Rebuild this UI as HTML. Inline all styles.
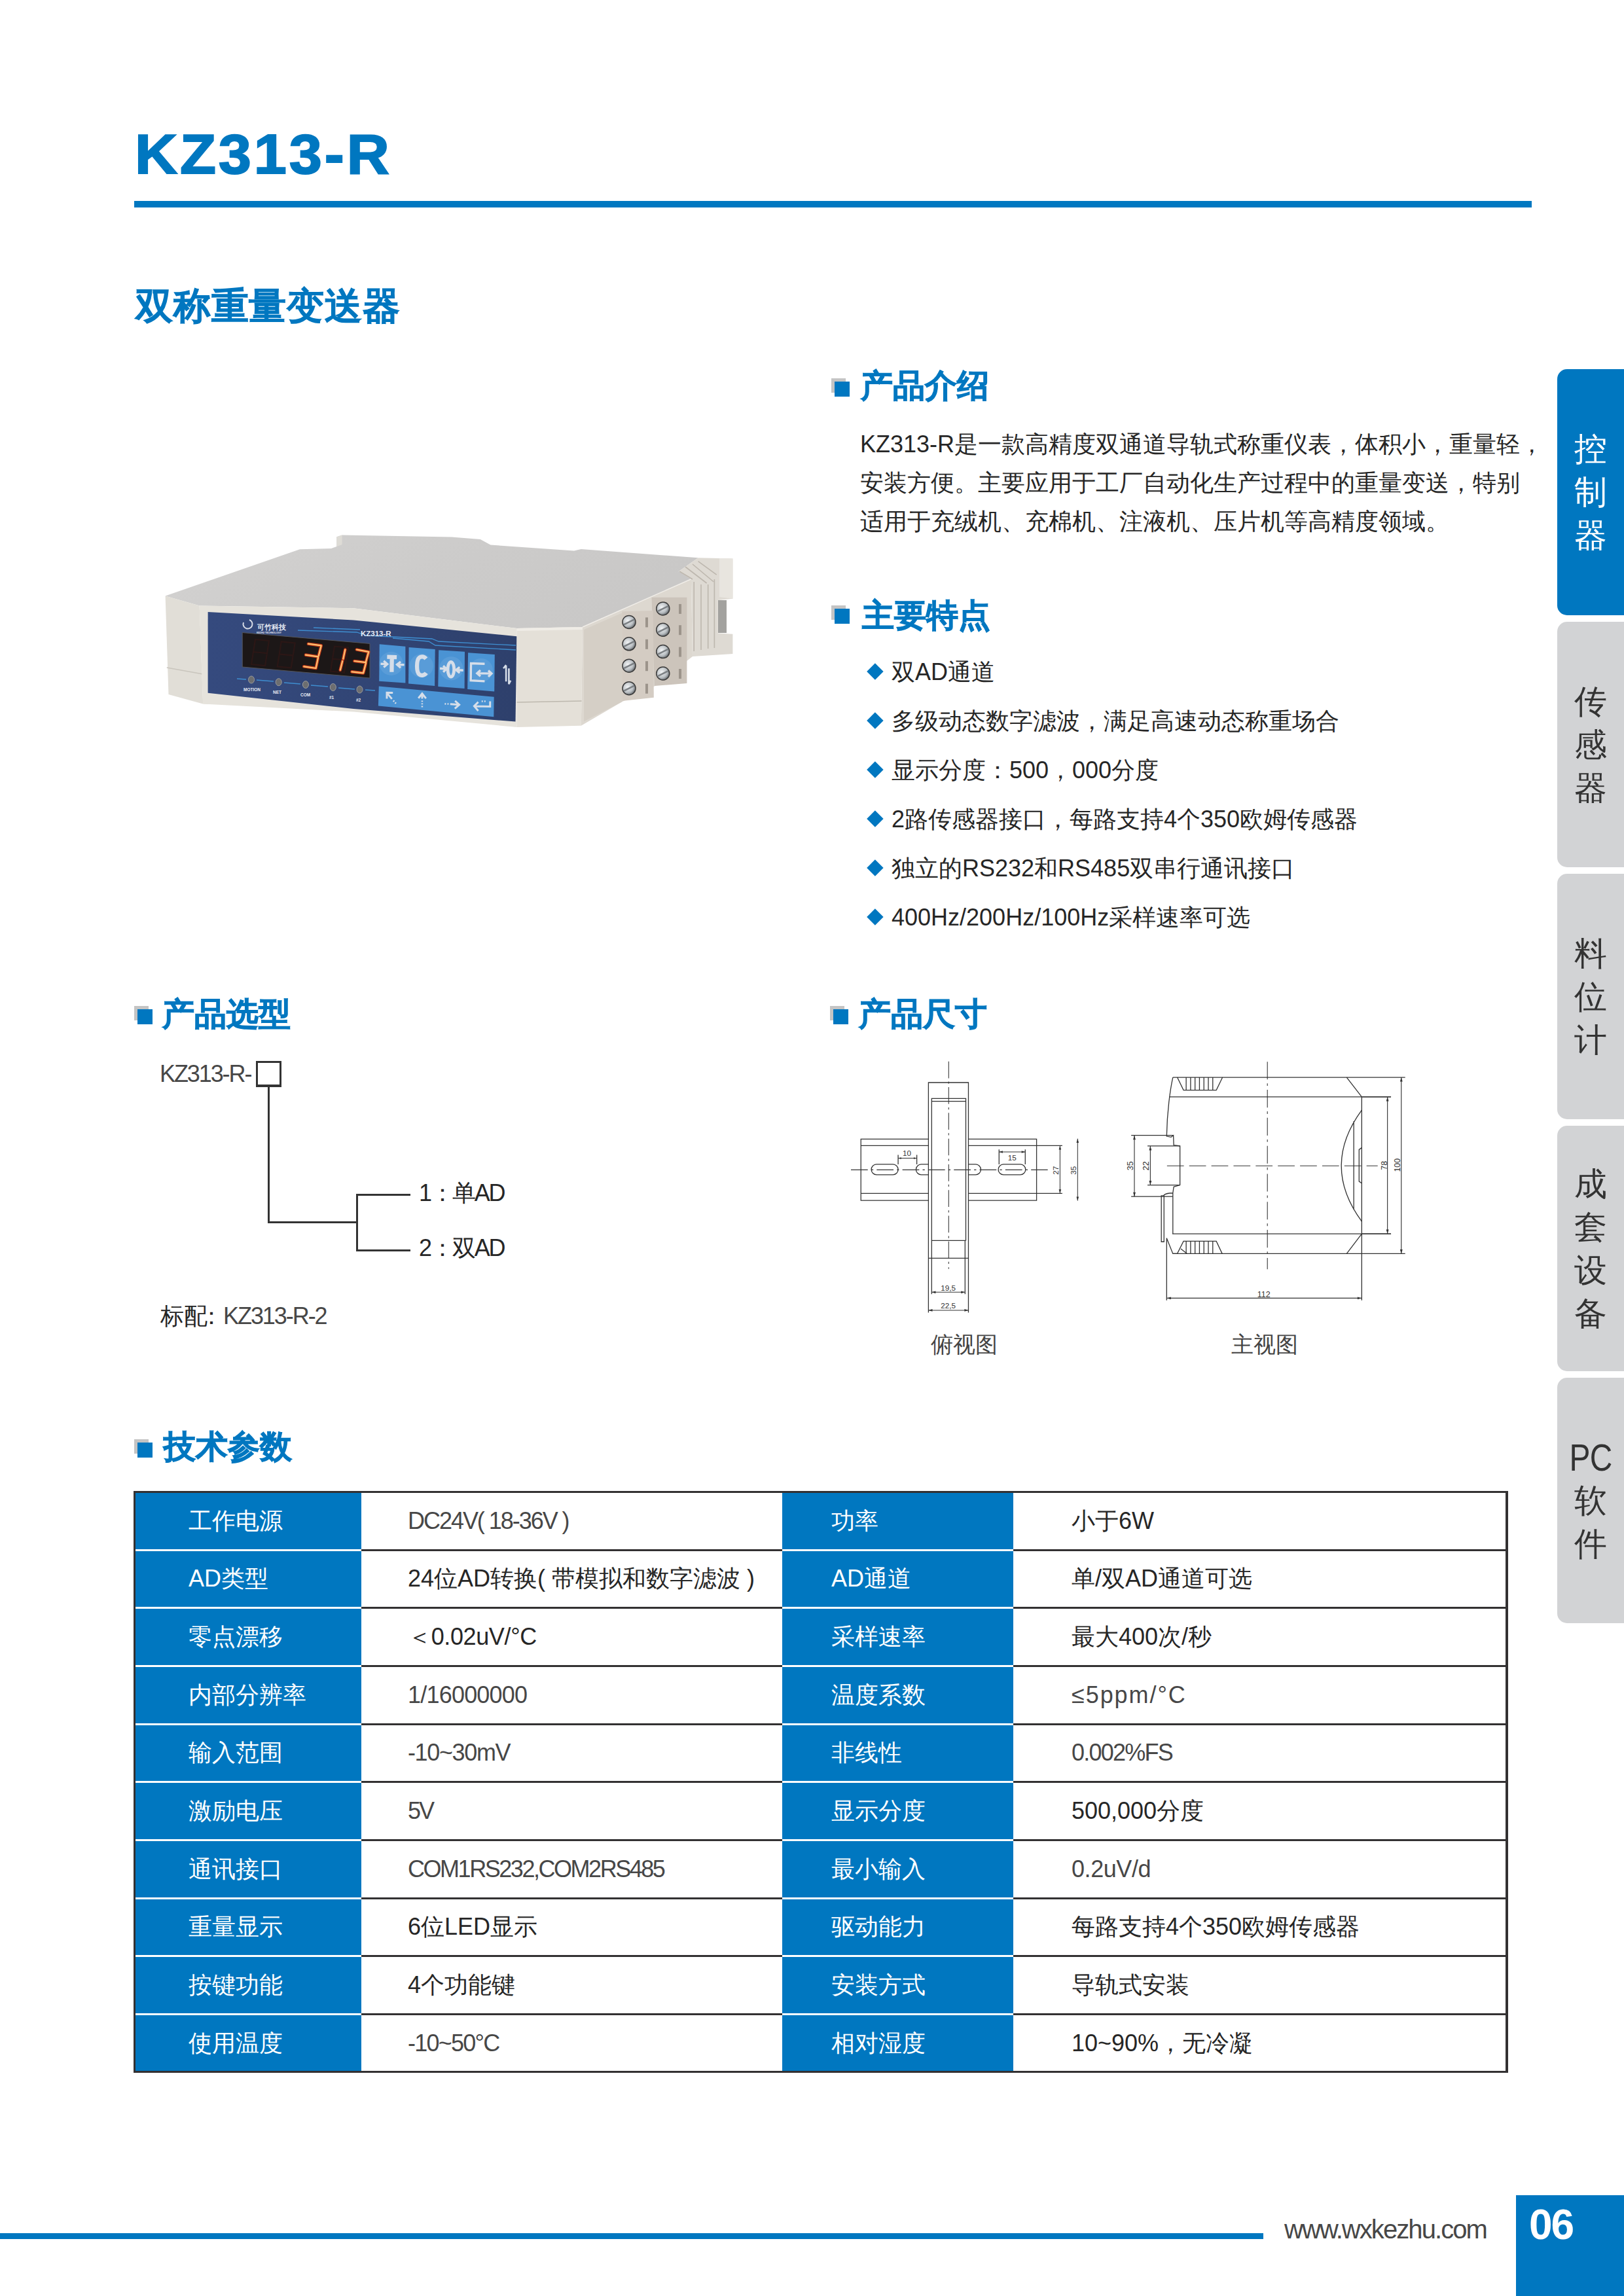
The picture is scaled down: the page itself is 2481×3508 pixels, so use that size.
<!DOCTYPE html>
<html><head><meta charset="utf-8"><title>KZ313-R</title><style>
html,body{margin:0;padding:0;background:#fff;}
body{width:2481px;height:3508px;position:relative;overflow:hidden;font-family:"Liberation Sans",sans-serif;color:#333;}
.a{position:absolute;white-space:nowrap;line-height:1;font-feature-settings:"palt" 1;}
.r{position:absolute;}
.j{text-align:justify;text-align-last:justify;}
</style></head><body>
<div class="a" style="left:206.0px;top:193.2px;font-size:85px;color:#0077C0;font-weight:bold;-webkit-text-stroke:2px #0077C0;letter-spacing:3.65px;transform:scaleX(1.06);transform-origin:0 0;">KZ313-R</div>
<div class="r" style="left:205px;top:307px;width:2135px;height:10px;background:#0077C0;"></div>
<div class="a j" style="left:207.0px;top:438.7px;font-size:57px;color:#0077C0;font-weight:normal;width:404px;-webkit-text-stroke:2.5px #0077C0;">双称重量变送器</div>
<div class="r" style="left:1270px;top:578px;width:22px;height:22px;background:#C4C4C4;"></div>
<div class="r" style="left:1275px;top:583px;width:23px;height:23px;background:#0077C0;"></div>
<div class="a j" style="left:1315.0px;top:564.5px;font-size:49px;color:#0077C0;font-weight:normal;width:196px;-webkit-text-stroke:2.5px #0077C0;">产品介绍</div>
<div class="r" style="left:1270px;top:925px;width:22px;height:22px;background:#C4C4C4;"></div>
<div class="r" style="left:1275px;top:930px;width:23px;height:23px;background:#0077C0;"></div>
<div class="a j" style="left:1317.0px;top:915.5px;font-size:49px;color:#0077C0;font-weight:normal;width:196px;-webkit-text-stroke:2.5px #0077C0;">主要特点</div>
<div class="r" style="left:205px;top:1537px;width:22px;height:22px;background:#C4C4C4;"></div>
<div class="r" style="left:210px;top:1542px;width:23px;height:23px;background:#0077C0;"></div>
<div class="a j" style="left:248.0px;top:1524.5px;font-size:49px;color:#0077C0;font-weight:normal;width:196px;-webkit-text-stroke:2.5px #0077C0;">产品选型</div>
<div class="r" style="left:1268px;top:1537px;width:22px;height:22px;background:#C4C4C4;"></div>
<div class="r" style="left:1273px;top:1542px;width:23px;height:23px;background:#0077C0;"></div>
<div class="a j" style="left:1312.0px;top:1524.5px;font-size:49px;color:#0077C0;font-weight:normal;width:196px;-webkit-text-stroke:2.5px #0077C0;">产品尺寸</div>
<div class="r" style="left:205px;top:2199px;width:22px;height:22px;background:#C4C4C4;"></div>
<div class="r" style="left:210px;top:2204px;width:23px;height:23px;background:#0077C0;"></div>
<div class="a j" style="left:250.0px;top:2185.5px;font-size:49px;color:#0077C0;font-weight:normal;width:196px;-webkit-text-stroke:2.5px #0077C0;">技术参数</div>
<div class="a j" style="left:1314.0px;top:661.2px;font-size:36px;color:#262626;font-weight:normal;width:995.2px;">KZ313-R是一款高精度双通道导轨式称重仪表，体积小，重量轻，</div>
<div class="a j" style="left:1314.0px;top:720.0px;font-size:36px;color:#262626;font-weight:normal;width:985.5px;">安装方便。主要应用于工厂自动化生产过程中的重量变送，特别</div>
<div class="a j" style="left:1314.0px;top:778.5px;font-size:36px;color:#262626;font-weight:normal;width:839.5px;">适用于充绒机、充棉机、注液机、压片机等高精度领域。</div>
<div class="r" style="left:1327.9px;top:1016.5px;width:17.8px;height:17.8px;background:#0077C0;transform:rotate(45deg);"></div>
<div class="a j" style="left:1362.0px;top:1008.5px;font-size:36px;color:#262626;font-weight:normal;width:150.8px;">双AD通道</div>
<div class="r" style="left:1327.9px;top:1091.6px;width:17.8px;height:17.8px;background:#0077C0;transform:rotate(45deg);"></div>
<div class="a j" style="left:1362.0px;top:1083.6px;font-size:36px;color:#262626;font-weight:normal;width:654.9px;">多级动态数字滤波，满足高速动态称重场合</div>
<div class="r" style="left:1327.9px;top:1166.7px;width:17.8px;height:17.8px;background:#0077C0;transform:rotate(45deg);"></div>
<div class="a j" style="left:1362.0px;top:1158.7px;font-size:36px;color:#262626;font-weight:normal;width:361.4px;">显示分度：500，000分度</div>
<div class="r" style="left:1327.9px;top:1241.8px;width:17.8px;height:17.8px;background:#0077C0;transform:rotate(45deg);"></div>
<div class="a j" style="left:1362.0px;top:1233.8px;font-size:36px;color:#262626;font-weight:normal;width:678.8px;">2路传感器接口，每路支持4个350欧姆传感器</div>
<div class="r" style="left:1327.9px;top:1316.9px;width:17.8px;height:17.8px;background:#0077C0;transform:rotate(45deg);"></div>
<div class="a j" style="left:1362.0px;top:1308.9px;font-size:36px;color:#262626;font-weight:normal;width:587.1px;">独立的RS232和RS485双串行通讯接口</div>
<div class="r" style="left:1327.9px;top:1392.0px;width:17.8px;height:17.8px;background:#0077C0;transform:rotate(45deg);"></div>
<div class="a j" style="left:1362.0px;top:1384.0px;font-size:36px;color:#262626;font-weight:normal;width:534.3px;">400Hz/200Hz/100Hz采样速率可选</div>
<div class="a j" style="left:244.0px;top:1623.2px;font-size:36px;color:#474747;font-weight:normal;width:139.3px;letter-spacing:-2.09px;">KZ313-R-</div>
<div class="r" style="left:391px;top:1621px;width:33px;height:33px;border:3px solid #333333;border-bottom-width:4px;"></div>
<div class="r" style="left:409px;top:1660px;width:3px;height:208px;background:#333333;"></div>
<div class="r" style="left:409px;top:1865.5px;width:137px;height:3px;background:#333333;"></div>
<div class="r" style="left:543.5px;top:1824px;width:3px;height:88px;background:#333333;"></div>
<div class="r" style="left:543.5px;top:1824px;width:83px;height:3px;background:#333333;"></div>
<div class="r" style="left:543.5px;top:1909px;width:83px;height:3px;background:#333333;"></div>
<div class="a j" style="left:640.0px;top:1804.5px;font-size:36px;color:#262626;font-weight:normal;width:112.0px;letter-spacing:-2.40px;">1：单AD</div>
<div class="a j" style="left:640.0px;top:1889.1px;font-size:36px;color:#262626;font-weight:normal;width:112.0px;letter-spacing:-2.40px;">2：双AD</div>
<div class="a j" style="left:244.5px;top:1992.9px;font-size:36px;color:#262626;font-weight:normal;width:68.0px;">标配</div>
<div class="a j" style="left:305.0px;top:1992.9px;font-size:36px;color:#262626;font-weight:normal;width:34px;">：</div>
<div class="a j" style="left:341.0px;top:1992.9px;font-size:36px;color:#474747;font-weight:normal;width:157.5px;letter-spacing:-2.06px;">KZ313-R-2</div>
<div class="a j" style="left:1422.0px;top:2037.2px;font-size:34px;color:#444;font-weight:normal;width:101.1px;">俯视图</div>
<div class="a j" style="left:1881.0px;top:2037.2px;font-size:34px;color:#444;font-weight:normal;width:101.1px;">主视图</div>
<div class="r" style="left:2379px;top:564px;width:102px;height:376px;background:#0077C0;border-radius:15px 0 0 15px;"></div>
<div class="a" style="left:2379px;width:102px;text-align:center;top:661.0px;font-size:50px;line-height:50px;color:#fff;">控</div>
<div class="a" style="left:2379px;width:102px;text-align:center;top:727.0px;font-size:50px;line-height:50px;color:#fff;">制</div>
<div class="a" style="left:2379px;width:102px;text-align:center;top:793.0px;font-size:50px;line-height:50px;color:#fff;">器</div>
<div class="r" style="left:2379px;top:950px;width:102px;height:375px;background:#D2D3D5;border-radius:15px 0 0 15px;"></div>
<div class="a" style="left:2379px;width:102px;text-align:center;top:1046.5px;font-size:50px;line-height:50px;color:#333;">传</div>
<div class="a" style="left:2379px;width:102px;text-align:center;top:1112.5px;font-size:50px;line-height:50px;color:#333;">感</div>
<div class="a" style="left:2379px;width:102px;text-align:center;top:1178.5px;font-size:50px;line-height:50px;color:#333;">器</div>
<div class="r" style="left:2379px;top:1335px;width:102px;height:375px;background:#D2D3D5;border-radius:15px 0 0 15px;"></div>
<div class="a" style="left:2379px;width:102px;text-align:center;top:1431.5px;font-size:50px;line-height:50px;color:#333;">料</div>
<div class="a" style="left:2379px;width:102px;text-align:center;top:1497.5px;font-size:50px;line-height:50px;color:#333;">位</div>
<div class="a" style="left:2379px;width:102px;text-align:center;top:1563.5px;font-size:50px;line-height:50px;color:#333;">计</div>
<div class="r" style="left:2379px;top:1720px;width:102px;height:375px;background:#D2D3D5;border-radius:15px 0 0 15px;"></div>
<div class="a" style="left:2379px;width:102px;text-align:center;top:1783.5px;font-size:50px;line-height:50px;color:#333;">成</div>
<div class="a" style="left:2379px;width:102px;text-align:center;top:1849.5px;font-size:50px;line-height:50px;color:#333;">套</div>
<div class="a" style="left:2379px;width:102px;text-align:center;top:1915.5px;font-size:50px;line-height:50px;color:#333;">设</div>
<div class="a" style="left:2379px;width:102px;text-align:center;top:1981.5px;font-size:50px;line-height:50px;color:#333;">备</div>
<div class="r" style="left:2379px;top:2105px;width:102px;height:375px;background:#D2D3D5;border-radius:15px 0 0 15px;"></div>
<div class="a" style="left:2379px;width:102px;text-align:center;top:2201.5px;font-size:57px;line-height:50px;color:#333;letter-spacing:-1px;transform:scaleX(0.84);">PC</div>
<div class="a" style="left:2379px;width:102px;text-align:center;top:2267.5px;font-size:50px;line-height:50px;color:#333;">软</div>
<div class="a" style="left:2379px;width:102px;text-align:center;top:2333.5px;font-size:50px;line-height:50px;color:#333;">件</div>
<div class="r" style="left:204px;top:2278px;width:2100px;height:889px;background:#333132;"></div>
<div class="r" style="left:207px;top:2281.0px;width:345px;height:85.5px;background:#0077C0;"></div>
<div class="r" style="left:552px;top:2281.0px;width:643px;height:85.5px;background:#fff;"></div>
<div class="r" style="left:1195px;top:2281.0px;width:353px;height:85.5px;background:#0077C0;"></div>
<div class="r" style="left:1548px;top:2281.0px;width:752px;height:85.5px;background:#fff;"></div>
<div class="r" style="left:207px;top:2366.5px;width:345px;height:3.2px;background:#fff;"></div>
<div class="r" style="left:1195px;top:2366.5px;width:353px;height:3.2px;background:#fff;"></div>
<div class="a j" style="left:288.0px;top:2305.6px;font-size:36px;color:#fff;font-weight:normal;width:140.0px;">工作电源</div>
<div class="a j" style="left:623.0px;top:2305.6px;font-size:36px;color:#474747;font-weight:normal;width:245.5px;letter-spacing:-2.04px;">DC24V( 18-36V )</div>
<div class="a j" style="left:1270.0px;top:2305.6px;font-size:36px;color:#fff;font-weight:normal;width:70.0px;">功率</div>
<div class="a j" style="left:1637.0px;top:2305.6px;font-size:36px;color:#262626;font-weight:normal;width:118.7px;">小于6W</div>
<div class="r" style="left:207px;top:2369.7px;width:345px;height:85.5px;background:#0077C0;"></div>
<div class="r" style="left:552px;top:2369.7px;width:643px;height:85.5px;background:#fff;"></div>
<div class="r" style="left:1195px;top:2369.7px;width:353px;height:85.5px;background:#0077C0;"></div>
<div class="r" style="left:1548px;top:2369.7px;width:752px;height:85.5px;background:#fff;"></div>
<div class="r" style="left:207px;top:2455.1px;width:345px;height:3.2px;background:#fff;"></div>
<div class="r" style="left:1195px;top:2455.1px;width:353px;height:3.2px;background:#fff;"></div>
<div class="a j" style="left:288.0px;top:2394.3px;font-size:36px;color:#fff;font-weight:normal;width:114.1px;">AD类型</div>
<div class="a j" style="left:623.0px;top:2394.3px;font-size:36px;color:#262626;font-weight:normal;width:504.1px;">24位AD转换( 带模拟和数字滤波 )</div>
<div class="a j" style="left:1270.0px;top:2394.3px;font-size:36px;color:#fff;font-weight:normal;width:114.1px;">AD通道</div>
<div class="a j" style="left:1637.0px;top:2394.3px;font-size:36px;color:#262626;font-weight:normal;width:267.9px;">单/双AD通道可选</div>
<div class="r" style="left:207px;top:2458.3px;width:345px;height:85.5px;background:#0077C0;"></div>
<div class="r" style="left:552px;top:2458.3px;width:643px;height:85.5px;background:#fff;"></div>
<div class="r" style="left:1195px;top:2458.3px;width:353px;height:85.5px;background:#0077C0;"></div>
<div class="r" style="left:1548px;top:2458.3px;width:752px;height:85.5px;background:#fff;"></div>
<div class="r" style="left:207px;top:2543.8px;width:345px;height:3.2px;background:#fff;"></div>
<div class="r" style="left:1195px;top:2543.8px;width:353px;height:3.2px;background:#fff;"></div>
<div class="a j" style="left:288.0px;top:2483.0px;font-size:36px;color:#fff;font-weight:normal;width:140.0px;">零点漂移</div>
<div class="a j" style="left:623.0px;top:2483.0px;font-size:36px;color:#262626;font-weight:normal;width:187.8px;letter-spacing:-0.37px;">＜0.02uV/°C</div>
<div class="a j" style="left:1270.0px;top:2483.0px;font-size:36px;color:#fff;font-weight:normal;width:140.0px;">采样速率</div>
<div class="a j" style="left:1637.0px;top:2483.0px;font-size:36px;color:#262626;font-weight:normal;width:210.0px;">最大400次/秒</div>
<div class="r" style="left:207px;top:2547.0px;width:345px;height:85.5px;background:#0077C0;"></div>
<div class="r" style="left:552px;top:2547.0px;width:643px;height:85.5px;background:#fff;"></div>
<div class="r" style="left:1195px;top:2547.0px;width:353px;height:85.5px;background:#0077C0;"></div>
<div class="r" style="left:1548px;top:2547.0px;width:752px;height:85.5px;background:#fff;"></div>
<div class="r" style="left:207px;top:2632.5px;width:345px;height:3.2px;background:#fff;"></div>
<div class="r" style="left:1195px;top:2632.5px;width:353px;height:3.2px;background:#fff;"></div>
<div class="a j" style="left:288.0px;top:2571.6px;font-size:36px;color:#fff;font-weight:normal;width:175.0px;">内部分辨率</div>
<div class="a j" style="left:623.0px;top:2571.6px;font-size:36px;color:#474747;font-weight:normal;width:182.3px;letter-spacing:-0.79px;">1/16000000</div>
<div class="a j" style="left:1270.0px;top:2571.6px;font-size:36px;color:#fff;font-weight:normal;width:140.0px;">温度系数</div>
<div class="a j" style="left:1637.0px;top:2571.6px;font-size:36px;color:#474747;font-weight:normal;width:175.7px;letter-spacing:1.94px;">≤5ppm/°C</div>
<div class="r" style="left:207px;top:2635.7px;width:345px;height:85.5px;background:#0077C0;"></div>
<div class="r" style="left:552px;top:2635.7px;width:643px;height:85.5px;background:#fff;"></div>
<div class="r" style="left:1195px;top:2635.7px;width:353px;height:85.5px;background:#0077C0;"></div>
<div class="r" style="left:1548px;top:2635.7px;width:752px;height:85.5px;background:#fff;"></div>
<div class="r" style="left:207px;top:2721.1px;width:345px;height:3.2px;background:#fff;"></div>
<div class="r" style="left:1195px;top:2721.1px;width:353px;height:3.2px;background:#fff;"></div>
<div class="a j" style="left:288.0px;top:2660.3px;font-size:36px;color:#fff;font-weight:normal;width:140.0px;">输入范围</div>
<div class="a j" style="left:623.0px;top:2660.3px;font-size:36px;color:#474747;font-weight:normal;width:156.2px;letter-spacing:-1.37px;">-10~30mV</div>
<div class="a j" style="left:1270.0px;top:2660.3px;font-size:36px;color:#fff;font-weight:normal;width:105.0px;">非线性</div>
<div class="a j" style="left:1637.0px;top:2660.3px;font-size:36px;color:#474747;font-weight:normal;width:154.0px;letter-spacing:-1.77px;">0.002%FS</div>
<div class="r" style="left:207px;top:2724.3px;width:345px;height:85.5px;background:#0077C0;"></div>
<div class="r" style="left:552px;top:2724.3px;width:643px;height:85.5px;background:#fff;"></div>
<div class="r" style="left:1195px;top:2724.3px;width:353px;height:85.5px;background:#0077C0;"></div>
<div class="r" style="left:1548px;top:2724.3px;width:752px;height:85.5px;background:#fff;"></div>
<div class="r" style="left:207px;top:2809.8px;width:345px;height:3.2px;background:#fff;"></div>
<div class="r" style="left:1195px;top:2809.8px;width:353px;height:3.2px;background:#fff;"></div>
<div class="a j" style="left:288.0px;top:2749.0px;font-size:36px;color:#fff;font-weight:normal;width:140.0px;">激励电压</div>
<div class="a j" style="left:623.0px;top:2749.0px;font-size:36px;color:#474747;font-weight:normal;width:38.0px;letter-spacing:-3.03px;">5V</div>
<div class="a j" style="left:1270.0px;top:2749.0px;font-size:36px;color:#fff;font-weight:normal;width:140.0px;">显示分度</div>
<div class="a j" style="left:1637.0px;top:2749.0px;font-size:36px;color:#262626;font-weight:normal;width:191.1px;">500,000分度</div>
<div class="r" style="left:207px;top:2813.0px;width:345px;height:85.5px;background:#0077C0;"></div>
<div class="r" style="left:552px;top:2813.0px;width:643px;height:85.5px;background:#fff;"></div>
<div class="r" style="left:1195px;top:2813.0px;width:353px;height:85.5px;background:#0077C0;"></div>
<div class="r" style="left:1548px;top:2813.0px;width:752px;height:85.5px;background:#fff;"></div>
<div class="r" style="left:207px;top:2898.5px;width:345px;height:3.2px;background:#fff;"></div>
<div class="r" style="left:1195px;top:2898.5px;width:353px;height:3.2px;background:#fff;"></div>
<div class="a j" style="left:288.0px;top:2837.6px;font-size:36px;color:#fff;font-weight:normal;width:140.0px;">通讯接口</div>
<div class="a j" style="left:623.0px;top:2837.6px;font-size:36px;color:#474747;font-weight:normal;width:391.5px;letter-spacing:-2.46px;">COM1RS232,COM2RS485</div>
<div class="a j" style="left:1270.0px;top:2837.6px;font-size:36px;color:#fff;font-weight:normal;width:140.0px;">最小输入</div>
<div class="a j" style="left:1637.0px;top:2837.6px;font-size:36px;color:#474747;font-weight:normal;width:121.0px;letter-spacing:-0.44px;">0.2uV/d</div>
<div class="r" style="left:207px;top:2901.7px;width:345px;height:85.5px;background:#0077C0;"></div>
<div class="r" style="left:552px;top:2901.7px;width:643px;height:85.5px;background:#fff;"></div>
<div class="r" style="left:1195px;top:2901.7px;width:353px;height:85.5px;background:#0077C0;"></div>
<div class="r" style="left:1548px;top:2901.7px;width:752px;height:85.5px;background:#fff;"></div>
<div class="r" style="left:207px;top:2987.1px;width:345px;height:3.2px;background:#fff;"></div>
<div class="r" style="left:1195px;top:2987.1px;width:353px;height:3.2px;background:#fff;"></div>
<div class="a j" style="left:288.0px;top:2926.3px;font-size:36px;color:#fff;font-weight:normal;width:140.0px;">重量显示</div>
<div class="a j" style="left:623.0px;top:2926.3px;font-size:36px;color:#262626;font-weight:normal;width:185.6px;">6位LED显示</div>
<div class="a j" style="left:1270.0px;top:2926.3px;font-size:36px;color:#fff;font-weight:normal;width:140.0px;">驱动能力</div>
<div class="a j" style="left:1637.0px;top:2926.3px;font-size:36px;color:#262626;font-weight:normal;width:424.9px;">每路支持4个350欧姆传感器</div>
<div class="r" style="left:207px;top:2990.3px;width:345px;height:85.5px;background:#0077C0;"></div>
<div class="r" style="left:552px;top:2990.3px;width:643px;height:85.5px;background:#fff;"></div>
<div class="r" style="left:1195px;top:2990.3px;width:353px;height:85.5px;background:#0077C0;"></div>
<div class="r" style="left:1548px;top:2990.3px;width:752px;height:85.5px;background:#fff;"></div>
<div class="r" style="left:207px;top:3075.8px;width:345px;height:3.2px;background:#fff;"></div>
<div class="r" style="left:1195px;top:3075.8px;width:353px;height:3.2px;background:#fff;"></div>
<div class="a j" style="left:288.0px;top:3015.0px;font-size:36px;color:#fff;font-weight:normal;width:140.0px;">按键功能</div>
<div class="a j" style="left:623.0px;top:3015.0px;font-size:36px;color:#262626;font-weight:normal;width:158.7px;">4个功能键</div>
<div class="a j" style="left:1270.0px;top:3015.0px;font-size:36px;color:#fff;font-weight:normal;width:140.0px;">安装方式</div>
<div class="a j" style="left:1637.0px;top:3015.0px;font-size:36px;color:#262626;font-weight:normal;width:175.0px;">导轨式安装</div>
<div class="r" style="left:207px;top:3079.0px;width:345px;height:85.0px;background:#0077C0;"></div>
<div class="r" style="left:552px;top:3079.0px;width:643px;height:85.0px;background:#fff;"></div>
<div class="r" style="left:1195px;top:3079.0px;width:353px;height:85.0px;background:#0077C0;"></div>
<div class="r" style="left:1548px;top:3079.0px;width:752px;height:85.0px;background:#fff;"></div>
<div class="a j" style="left:288.0px;top:3103.6px;font-size:36px;color:#fff;font-weight:normal;width:140.0px;">使用温度</div>
<div class="a j" style="left:623.0px;top:3103.6px;font-size:36px;color:#474747;font-weight:normal;width:139.5px;letter-spacing:-1.75px;">-10~50°C</div>
<div class="a j" style="left:1270.0px;top:3103.6px;font-size:36px;color:#fff;font-weight:normal;width:140.0px;">相对湿度</div>
<div class="a j" style="left:1637.0px;top:3103.6px;font-size:36px;color:#262626;font-weight:normal;width:247.5px;">10~90%，无冷凝</div>
<svg class="r" style="left:230px;top:800px;" width="910" height="340" viewBox="230 800 910 340"><defs><linearGradient id="gTop" x1="0" y1="0" x2="1" y2="0.3"><stop offset="0" stop-color="#D3D2D1"/><stop offset="0.6" stop-color="#CCCBCA"/><stop offset="1" stop-color="#C9C8C7"/></linearGradient><linearGradient id="gNavy" x1="0" y1="0" x2="1" y2="0"><stop offset="0" stop-color="#354A7E"/><stop offset="1" stop-color="#2E406C"/></linearGradient><radialGradient id="gScrew" cx="0.4" cy="0.4" r="0.6"><stop offset="0" stop-color="#F2F4F5"/><stop offset="0.7" stop-color="#B9BEC2"/><stop offset="1" stop-color="#6E7377"/></radialGradient></defs><path fill="url(#gTop)" d="M252.6,910.5 L458,839.2 L506,837.9 L514.3,835 L514.3,820.3 L522.6,817.5 L690,820.6 L733.8,824 L749.4,832.5 L877,841.6 L887.8,839 L1066.6,852.3 L1037,873 L1055.9,884.7 L892,958 L789.7,960.1 L540,929.3 L304.7,925.6 Z"/><path fill="#DEDCD6" d="M514.3,820.3 L522.6,817.5 L522.6,832 L514.3,835 Z"/><path fill="#E1DED7" d="M252.6,910.5 L304.7,925.6 L310.2,1075.5 L257.5,1061 Z"/><path fill="none" stroke="#C9C5BD" stroke-width="1.5" d="M254.8,1020 L315.7,1031"/><path fill="#EAE7E0" d="M304.7,925.6 L317.6,927 L317.6,1076 L310.2,1075.5 Z"/><path fill="#E6E3DC" d="M304.7,925.6 L540,929.3 L789.7,960.1 L789.7,1111 L540,1087.5 L310.2,1075.5 Z"/><path fill="url(#gNavy)" d="M317.6,934.9 L540,947.5 L789.4,972.3 L787.5,1102.6 L540,1083 L317.6,1058.8 Z"/><path fill="none" stroke="#3F8ED0" stroke-width="1.3" d="M455,963 L545,966 L560,971 L660,976 L670,980 L788,986"/><path fill="none" stroke="#3F8ED0" stroke-width="1.3" d="M479,959 L550,962 M600,975 L655,980 L665,986 L788,993"/><g fill="#E8ECF4" font-family="Liberation Sans" font-weight="bold"><text x="393" y="962" font-size="10.5">可竹科技</text><text x="392" y="968" font-size="3.5">KEZHU TECHNOLOGY</text><text x="551" y="972" font-size="11.5">KZ313-R</text><text x="372" y="1056" font-size="6.5">MOTION</text><text x="417" y="1060" font-size="6.5">NET</text><text x="459" y="1064" font-size="6.5">COM</text><text x="503" y="1068" font-size="6.5">#1</text><text x="544" y="1072" font-size="6.5">#2</text></g><path fill="none" stroke="#D8DCE6" stroke-width="2" d="M372,951 a7,7 0 1,0 9,-4"/><ellipse cx="384" cy="1038.5" rx="4.5" ry="5.5" fill="#6D6E70" stroke="#9A9B9D" stroke-width="1"/><ellipse cx="425.7" cy="1042.2" rx="4.5" ry="5.5" fill="#6D6E70" stroke="#9A9B9D" stroke-width="1"/><ellipse cx="466.9" cy="1046" rx="4.5" ry="5.5" fill="#6D6E70" stroke="#9A9B9D" stroke-width="1"/><ellipse cx="508.8" cy="1050" rx="4.5" ry="5.5" fill="#6D6E70" stroke="#9A9B9D" stroke-width="1"/><ellipse cx="549.5" cy="1053.5" rx="4.5" ry="5.5" fill="#6D6E70" stroke="#9A9B9D" stroke-width="1"/><path fill="none" stroke="#3F8ED0" stroke-width="1.5" d="M362,1037 L376,1038 M392,1039 L418,1041 M434,1043 L459,1045 M475,1047 L501,1049 M517,1051 L542,1053 M558,1054 L573,1055"/><path fill="#1C1717" stroke="#55565A" stroke-width="1" d="M370.2,966.5 L565,983.4 L565,1036 L370.2,1019 Z"/><g fill="none" stroke="#2B1716" stroke-width="2.2" stroke-linecap="round"><path d="M390,977.0 L411,979.0 L408,998.0 L387,996.0 Z M387,996.0 L384,1015.0 L405,1017.0 L408,998.0"/><path d="M429.7,980.4539 L450.7,982.4539 L447.7,1001.4539 L426.7,999.4539 Z M426.7,999.4539 L423.7,1018.4539 L444.7,1020.4539 L447.7,1001.4539"/><path d="M511,987.527 L532,989.527 L529,1008.527 L508,1006.527 Z M508,1006.527 L505,1025.527 L526,1027.527 L529,1008.527"/></g><path fill="none" stroke="#E0401A" stroke-width="4.6" stroke-linecap="round" stroke-linejoin="round" opacity="0.85" d="M471,983.7 L490.7,986.4 L486.7,1002 M467,1000.6 L486,1003.3 M486,1004.7 L482.6,1021 L464.3,1018.3 M527.3,992.5 L524.3,1006.7 M523.2,1010 L519.8,1023.7 M544.9,992.5 L563.2,995.9 L559.1,1010.8 M541.5,1010 L559.1,1012.2 M558.9,1013.5 L555,1028.4 L537.5,1026.4"/><path fill="none" stroke="#FFC070" stroke-width="2.2" stroke-linecap="round" stroke-linejoin="round" d="M471,983.7 L490.7,986.4 L486.7,1002 M467,1000.6 L486,1003.3 M486,1004.7 L482.6,1021 L464.3,1018.3 M527.3,992.5 L524.3,1006.7 M523.2,1010 L519.8,1023.7 M544.9,992.5 L563.2,995.9 L559.1,1010.8 M541.5,1010 L559.1,1012.2 M558.9,1013.5 L555,1028.4 L537.5,1026.4"/><g fill="#4A93D4"><path d="M579.7,984.3 L619.4,987.7 L619.4,1043.4 L579.2,1040.7 Z"/><path d="M624.6,989 L664.7,992.1 L664.1,1048 L624,1044.4 Z"/><path d="M670.2,993.2 L710,995.8 L709.6,1052.1 L669.3,1049 Z"/><path d="M715.1,997.3 L755.8,1000 L755.2,1056.4 L714.2,1053 Z"/><path d="M578.8,1048.6 L754.7,1064.7 L754.3,1095.2 L577.9,1078.5 Z"/></g><g transform="translate(540,940) scale(0.18473)"><g fill="#7DB3E3" opacity="0.3"><circle cx="312" cy="400" r="98"/><circle cx="562" cy="418" r="98"/><circle cx="808" cy="440" r="98"/><circle cx="1055" cy="455" r="98"/></g><g fill="none" stroke="#D6DEE9" stroke-width="18" stroke-linecap="butt" stroke-linejoin="miter"><path d="M225,402 L278,404 M250,378 L280,404 L250,430 M420,410 L362,408 M390,384 L360,408 L390,434"/><path d="M278,345 L358,347 M318,347 L316,470" stroke-width="34"/><path d="M600,360 C585,340 560,338 545,350 C520,370 518,470 545,490 C562,502 588,498 602,478" stroke-width="34"/><path d="M715,440 L768,444 M742,418 L770,444 L742,470 M908,456 L850,452 M878,430 L848,452 L878,478"/><ellipse cx="806" cy="448" rx="26" ry="62" stroke-width="26"/><path d="M1085,402 L972,398 L970,540 L1085,546" stroke-width="18"/><path d="M1025,480 L1142,482 M1050,455 L1022,480 L1050,505 M1115,458 L1142,482 L1115,508" stroke-width="18"/><path d="M318,692 L276,642 M276,690 L276,640 L326,642 M568,690 L568,648 M537,686 L568,648 L600,688 M800,735 L875,740 M840,708 L875,740 L838,772 M1130,712 L1130,755 L1000,752 M1032,718 L998,752 L1032,790" stroke-width="16"/><path d="M330,706 L355,734 M568,706 L568,772 M755,733 L792,734 M1060,712 L1100,712" stroke-width="14" stroke-dasharray="10 12"/><path d="M1262,415 L1262,548 M1240,440 L1262,412 M1285,440 L1285,570 L1300,540" stroke-width="14"/></g></g><path fill="#E4E0D8" d="M789.7,960.1 L890,958 L887.8,1108.8 L789.7,1111 Z"/><path fill="none" stroke="#BDB8AE" stroke-width="1.5" d="M789.7,1073 L889,1071"/><path fill="#EFECE6" d="M789.7,960.1 L890,958 L890,962 L789.7,964 Z"/><path fill="#DDD8D0" d="M890,958 L1055.9,884.7 L1058,1003 L999.8,1048.4 L950.3,1072.2 L887.8,1108.8 Z"/><path fill="#D5CFC6" d="M892,962 L950.3,936.4 L950.3,1072.2 L892,1102.3 Z"/><path fill="none" stroke="#F0EDE8" stroke-width="1.5" d="M890,958 L1055.9,884.7"/><path fill="#DEDAD3" d="M1066.6,852.3 L1119.4,853.4 L1119.4,914.8 L1096.8,917 L1096.8,967.6 L1119.4,968.7 L1119.4,998.9 L1058,1003 L1055.9,884.7 L1037,873 Z"/><path fill="#E8E5DF" d="M1099,853 L1119.4,853.4 L1119.4,914.8 L1099,912 Z"/><g fill="none" stroke="#BDB7AE" stroke-width="1.6"><path d="M1038,873 L1058,885 M1047,866 L1079.6,891 M1058,862 L1090.3,889 M1066.6,857.7 L1094.7,878.2"/><path d="M1060.2,889 L1060.2,995 M1071,893 L1071,993 M1081.7,893 L1081.7,991 M1091.4,885 L1091.4,990"/></g><path fill="#A3A29F" d="M1097,917 L1110,917 L1110,967 L1097,967 Z"/><path fill="#CCC4BB" d="M995.5,912.7 L1049.4,912.7 L1049.4,1044 L999.8,1048 Z"/><path fill="#D4CCC3" d="M950.3,934.2 L997.7,933.1 L998.8,1065.7 L950.3,1071 Z"/><g fill="#9C948B"><rect x="986" y="943.4" width="4" height="15"/><rect x="986" y="976.8" width="4" height="15"/><rect x="986" y="1010.2" width="4" height="15"/><rect x="986" y="1044.7" width="4" height="15"/><rect x="1037" y="922.9" width="4" height="15"/><rect x="1037" y="955.2" width="4" height="15"/><rect x="1037" y="988.6" width="4" height="15"/><rect x="1037" y="1022" width="4" height="15"/></g><circle cx="961" cy="950.4" r="10" fill="url(#gScrew)" stroke="#3A3A3A" stroke-width="1.5"/><path d="M953,954.4 L969,946.4" stroke="#7C8084" stroke-width="2.5"/><circle cx="961" cy="983.8" r="10" fill="url(#gScrew)" stroke="#3A3A3A" stroke-width="1.5"/><path d="M953,987.8 L969,979.8" stroke="#7C8084" stroke-width="2.5"/><circle cx="961" cy="1017.2" r="10" fill="url(#gScrew)" stroke="#3A3A3A" stroke-width="1.5"/><path d="M953,1021.2 L969,1013.2" stroke="#7C8084" stroke-width="2.5"/><circle cx="961" cy="1051.7" r="10" fill="url(#gScrew)" stroke="#3A3A3A" stroke-width="1.5"/><path d="M953,1055.7 L969,1047.7" stroke="#7C8084" stroke-width="2.5"/><circle cx="1012.8" cy="929.9" r="10" fill="url(#gScrew)" stroke="#3A3A3A" stroke-width="1.5"/><path d="M1005,933.9 L1021,925.9" stroke="#7C8084" stroke-width="2.5"/><circle cx="1012.8" cy="962.2" r="10" fill="url(#gScrew)" stroke="#3A3A3A" stroke-width="1.5"/><path d="M1005,966.2 L1021,958.2" stroke="#7C8084" stroke-width="2.5"/><circle cx="1012.8" cy="995.6" r="10" fill="url(#gScrew)" stroke="#3A3A3A" stroke-width="1.5"/><path d="M1005,999.6 L1021,991.6" stroke="#7C8084" stroke-width="2.5"/><circle cx="1012.8" cy="1029" r="10" fill="url(#gScrew)" stroke="#3A3A3A" stroke-width="1.5"/><path d="M1005,1033 L1021,1025" stroke="#7C8084" stroke-width="2.5"/></svg>
<svg class="r" style="left:1300px;top:1610px;" width="380" height="420" viewBox="0 0 1624 1795"><g fill="none" stroke="#333" stroke-width="5.5"><path d="M506,1690 L506,188 L767,188 L767,1690 M506,1335 L767,1335"/><path d="M527,1570 L527,292 L750,292 L750,1220 M527,310 L750,310 M527,1220 L750,1220 M745,1220 L745,1570"/><path d="M506,557 L65,557 L65,958 L506,958 M767,557 L1212,557 L1212,958 L767,958"/><path d="M65,600 L506,600 M767,600 L1380,600 M65,912 L506,912 M767,912 L1380,912"/><path d="M167,722 L274,722 A34,34 0 0,1 274,790 L167,790 A34,34 0 0,1 167,722 Z"/><path d="M506,722 L459,722 A34,34 0 0,0 459,790 L506,790"/><path d="M767,722 L814,722 A34,34 0 0,1 814,790 L767,790"/><path d="M996,722 L1106,722 A34,34 0 0,1 1106,790 L996,790 A34,34 0 0,1 996,722 Z"/><path d="M308,660 L308,722 M430,660 L430,722 M967,625 L967,722 M1138,625 L1138,722"/></g><g fill="none" stroke="#333" stroke-width="4.5" stroke-dasharray="110 22 14 22"><path d="M638,50 L638,1405"/><path d="M0,758 L1285,758"/></g><g fill="none" stroke="#333" stroke-width="4.5"><style>.f{fill:#333;stroke:none}</style><path d="M308,682 L430,682"/><path class="f" d="M308,682 L328,676.0 L328,688.0 Z M430,682 L410,676.0 L410,688.0 Z"/><path d="M967,641 L1138,641"/><path class="f" d="M967,641 L991,633.8 L991,648.2 Z M1138,641 L1114,633.8 L1114,648.2 Z"/><path d="M527,1557 L745,1557"/><path class="f" d="M527,1557 L553,1549.2 L553,1564.8 Z M745,1557 L719,1549.2 L719,1564.8 Z"/><path d="M506,1675 L767,1675"/><path class="f" d="M506,1675 L532,1667.2 L532,1682.8 Z M767,1675 L741,1667.2 L741,1682.8 Z"/><path d="M1365,600 L1365,912"/><path class="f" d="M1365,600 L1357.2,626 L1372.8,626 Z M1365,912 L1357.2,886 L1372.8,886 Z"/><path d="M1480,555 L1480,960"/><path class="f" d="M1480,555 L1472.2,581 L1487.8,581 Z M1480,960 L1472.2,934 L1487.8,934 Z"/></g><g fill="#333" font-family="Liberation Sans" font-size="50" text-anchor="middle"><text x="365" y="668">10</text><text x="1052" y="695">15</text><text x="635" y="1545">19,5</text><text x="635" y="1663">22,5</text><text transform="translate(1355,762) rotate(-90)">27</text><text transform="translate(1470,762) rotate(-90)">35</text></g></svg>
<svg class="r" style="left:1720px;top:1610px;" width="440" height="400" viewBox="0 0 1624 1476"><g fill="none" stroke="#333" stroke-width="4.8"><path d="M265,133 L1575,133 M245,243 L1495,243 M262,1015 L1495,1015 M265,1127 L1575,1127"/><path d="M290,133 L325,205 L510,205 L545,133"/><path d="M340,133 L340,205 M365,133 L365,205 M390,133 L390,205 M415,133 L415,205 M440,133 L440,205 M465,133 L465,205 M490,133 L490,205"/><path d="M230,1040 L265,1127 L290,1127 L325,1057 L510,1057 L543,1127 M310,1100 L345,1127"/><path d="M340,1057 L340,1127 M365,1057 L365,1127 M390,1057 L390,1127 M415,1057 L415,1127 M440,1057 L440,1127 M465,1057 L465,1127 M490,1057 L490,1127"/><path d="M1245,133 L1330,243 M1330,1015 L1245,1127 M1330,243 L1330,1390"/><path d="M1330,318 Q1100,632 1330,945 M1285,380 L1285,880 M1330,530 L1315,540 L1315,720 L1330,730"/><path d="M265,133 C250,200 232,330 230,465 L255,470 L268,460 L270,515 L305,520 L305,740 L270,750 L265,785 C240,785 220,790 212,800 M265,785 L265,1015"/><path d="M200,800 L215,800 L215,1060 L200,1060 Z"/><path d="M30,460 L268,460 M30,805 L265,805 M122,520 L305,520 M122,740 L305,740"/><path d="M230,1040 L230,1390"/><path d="M1330,243 L1495,243 M1330,1015 L1495,1015"/></g><g fill="none" stroke="#333" stroke-width="4" stroke-dasharray="100 22 14 22"><path d="M798,45 L798,1215"/></g><path fill="none" stroke="#333" stroke-width="4" stroke-dasharray="95 30" d="M232,632 L1420,632"/><g fill="none" stroke="#333" stroke-width="4.2"><style>.f{fill:#333;stroke:none}</style><path d="M48,460 L48,805"/><path class="f" d="M48,460 L40.8,484 L55.2,484 Z M48,805 L40.8,781 L55.2,781 Z"/><path d="M138,520 L138,740"/><path class="f" d="M138,520 L130.8,544 L145.2,544 Z M138,740 L130.8,716 L145.2,716 Z"/><path d="M1475,243 L1475,1015"/><path class="f" d="M1475,243 L1467.8,267 L1482.2,267 Z M1475,1015 L1467.8,991 L1482.2,991 Z"/><path d="M1553,133 L1553,1127"/><path class="f" d="M1553,133 L1545.8,157 L1560.2,157 Z M1553,1127 L1545.8,1103 L1560.2,1103 Z"/><path d="M230,1378 L1330,1378"/><path class="f" d="M230,1378 L254,1370.8 L254,1385.2 Z M1330,1378 L1306,1370.8 L1306,1385.2 Z"/></g><g fill="#333" font-family="Liberation Sans" font-size="46" text-anchor="middle"><text transform="translate(40,632) rotate(-90)">35</text><text transform="translate(129,632) rotate(-90)">22</text><text transform="translate(1471,630) rotate(-90)">78</text><text transform="translate(1546,628) rotate(-90)">100</text><text x="778" y="1372">112</text></g></svg>
<div class="r" style="left:0px;top:3412px;width:1930px;height:9px;background:#0077C0;"></div>
<div class="a j" style="left:1962.0px;top:3386.4px;font-size:40px;color:#474747;font-weight:normal;width:311.1px;letter-spacing:-1.93px;">www.wxkezhu.com</div>
<div class="r" style="left:2316px;top:3354px;width:165px;height:154px;background:#0077C0;"></div>
<div class="a" style="left:2336.0px;top:3366.8px;font-size:64px;color:#fff;font-weight:bold;letter-spacing:-2px;">06</div>
</body></html>
